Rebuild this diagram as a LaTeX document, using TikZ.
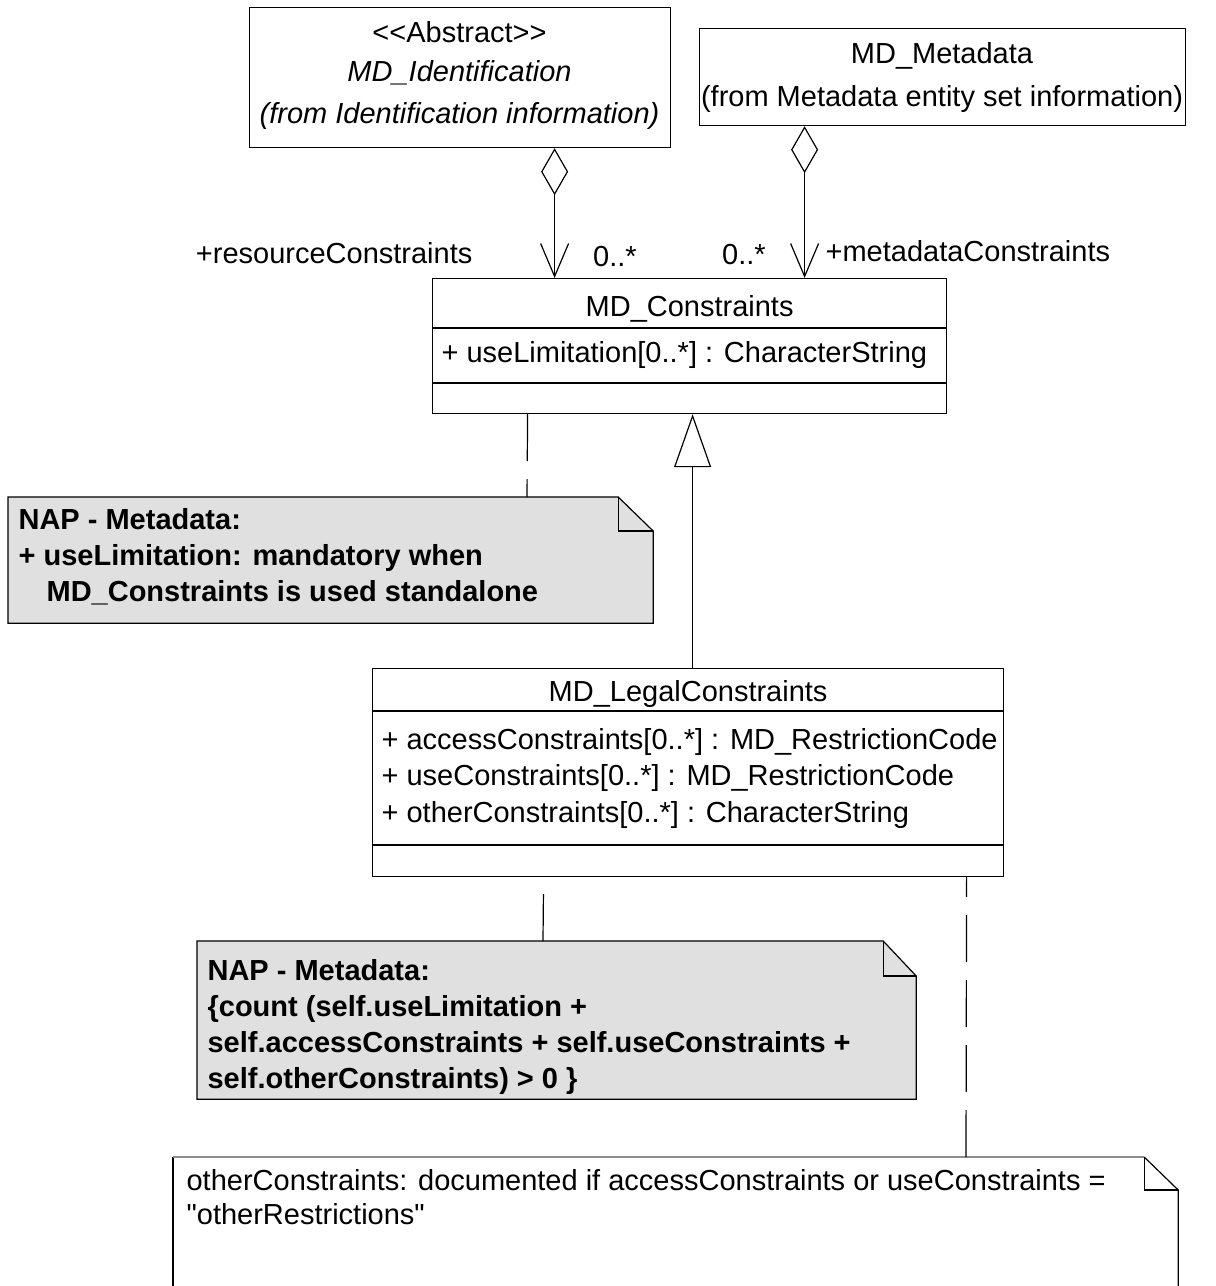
\documentclass[tikz,border=0pt]{standalone}
\usepackage{fontspec}
\newfontfamily\umlfont{Liberation Sans}
\usetikzlibrary{arrows.meta}
\definecolor{notegray}{RGB}{224,224,224}

\tikzset{
  umlbox/.style={draw, inner sep=0pt, anchor=north west},
  noteframe/.style={inner sep=0pt, anchor=north west},
  umltext/.style={font=\umlfont\fontsize{29}{36}\selectfont, inner sep=0pt, text height=24.5pt, text depth=2.5pt},
  notetext/.style={font=\umlfont\bfseries\fontsize{29}{36}\selectfont, inner sep=0pt, align=left, anchor=north west},
  noteplain/.style={font=\umlfont\fontsize{29}{34}\selectfont, inner sep=0pt, align=left, anchor=north west},
  aggr/.style={{Diamond[open, length=47pt, width=27pt]}-{Straight Barb[length=33pt, width=28pt]}},
  gener/.style={-{Triangle[open, length=53pt, width=37pt]}},
  noteline/.style={dash pattern=on 47pt off 18pt},
}

\begin{document}
\begin{tikzpicture}[x=1pt, y=-1pt, line width=1.2pt]
    \useasboundingbox (0,0) rectangle (1216,1286);
    % Abstract identification class
    \node[umlbox, minimum width=421pt, minimum height=140pt] (ident) at (249,7) {};
    \node[umltext] (identstereo) at (459.5,31) {<<Abstract>>};
    \node[umltext, font=\umlfont\itshape\fontsize{29}{36}\selectfont] (identname) at (459.5,70) {MD\_Identification};
    \node[umltext, font=\umlfont\itshape\fontsize{29}{36}\selectfont] (identpkg) at (459.5,112) {(from Identification information)};
    % Metadata class
    \node[umlbox, minimum width=486pt, minimum height=97pt] (meta) at (699,28) {};
    \node[umltext] (metaname) at (942,52) {MD\_Metadata};
    \node[umltext] (metapkg) at (942,95) {(from Metadata entity set information)};
    % MD_Constraints
    \node[umlbox, minimum width=514pt, minimum height=135pt] (constr) at (432,278) {};
    \draw ([yshift=-50pt]constr.north west) -- ([yshift=-50pt]constr.north east);
    \draw ([yshift=-105pt]constr.north west) -- ([yshift=-105pt]constr.north east);
    \node[umltext] (constrname) at ([yshift=-27pt]constr.north) {MD\_Constraints};
    \node[umltext, anchor=west] (constrattr) at ([xshift=9pt, yshift=-73pt]constr.north west) {+ useLimitation[0..*] : CharacterString};
    % MD_LegalConstraints
    \node[umlbox, minimum width=631pt, minimum height=208pt] (legal) at (372,668) {};
    \draw ([yshift=-43pt]legal.north west) -- ([yshift=-43pt]legal.north east);
    \draw ([yshift=-177pt]legal.north west) -- ([yshift=-177pt]legal.north east);
    \node[umltext] (legalname) at ([yshift=-22pt]legal.north) {MD\_LegalConstraints};
    \node[umltext, anchor=west] (legalattra) at ([xshift=9pt, yshift=-70pt]legal.north west) {+ accessConstraints[0..*] : MD\_RestrictionCode};
    \node[umltext, anchor=west] (legalattrb) at ([xshift=9pt, yshift=-106pt]legal.north west) {+ useConstraints[0..*] : MD\_RestrictionCode};
    \node[umltext, anchor=west] (legalattrc) at ([xshift=9pt, yshift=-143pt]legal.north west) {+ otherConstraints[0..*] : CharacterString};
    % Associations
    \draw[aggr] ([xshift=94.5pt]ident.south) -- ([xshift=-135pt]constr.north);
    \draw[aggr] ([xshift=-138pt]meta.south) -- ([xshift=115pt]constr.north);
    \node[umltext, anchor=east] (rolea) at (473,252) {+resourceConstraints};
    \node[umltext] (multa) at (615,255) {0..*};
    \node[umltext] (multb) at (744,253) {0..*};
    \node[umltext, anchor=west] (roleb) at (825,250) {+metadataConstraints};
    % Generalisation
    \draw[gener] ([xshift=4.5pt]legal.north) -- ([xshift=3pt]constr.south);
    % Note on MD_Constraints
    \node[noteframe, minimum width=644pt, minimum height=125pt] (noteone) at (8,497) {};
    \filldraw[fill=notegray] (noteone.north west) -- ([xshift=-35pt]noteone.north east) -- ([yshift=-34pt]noteone.north east) -- (noteone.south east) -- (noteone.south west) -- cycle;
    \draw ([xshift=-35pt]noteone.north east) |- ([yshift=-34pt]noteone.north east);
    \node[notetext] (noteonetext) at ([xshift=10pt, yshift=-11pt]noteone.north west) {NAP - Metadata:\\+ useLimitation: mandatory when\\\hspace*{28pt}MD\_Constraints is used standalone};
    \draw[noteline] ([xshift=-162pt]constr.south) -- ([xshift=519pt]noteone.north west);
    % Note on MD_LegalConstraints
    \node[noteframe, minimum width=718pt, minimum height=157pt] (notetwo) at (197,941) {};
    \filldraw[fill=notegray] (notetwo.north west) -- ([xshift=-33pt]notetwo.north east) -- ([yshift=-35pt]notetwo.north east) -- (notetwo.south east) -- (notetwo.south west) -- cycle;
    \draw ([xshift=-33pt]notetwo.north east) |- ([yshift=-35pt]notetwo.north east);
    \node[notetext] (notetwotext) at ([xshift=10pt, yshift=-18pt]notetwo.north west) {NAP - Metadata:\\\{count (self.useLimitation +\\self.accessConstraints + self.useConstraints +\\self.otherConstraints) > 0 \}};
    \draw[noteline] ([xshift=346pt]notetwo.north west) -- ([xshift=-144.5pt]legal.south);
    % Note on otherConstraints
    \node[noteframe, minimum width=1004pt, minimum height=140pt] (notethree) at (173,1157) {};
    \draw (notethree.south west) -- (notethree.north west);
    \draw[black!45] (notethree.north west) -- ([xshift=-34pt]notethree.north east);
    \draw ([xshift=-34pt]notethree.north east) -- ([yshift=-33pt]notethree.north east) -- (notethree.south east);
    \draw ([xshift=-34pt]notethree.north east) |- ([yshift=-33pt]notethree.north east);
    \node[noteplain] (notethreetext) at ([xshift=13pt, yshift=-12pt]notethree.north west) {otherConstraints: documented if accessConstraints or useConstraints =\\"otherRestrictions"};
    \draw[noteline] ([xshift=793pt]notethree.north west) -- ([xshift=278.5pt]legal.south);
\end{tikzpicture}
\end{document}
